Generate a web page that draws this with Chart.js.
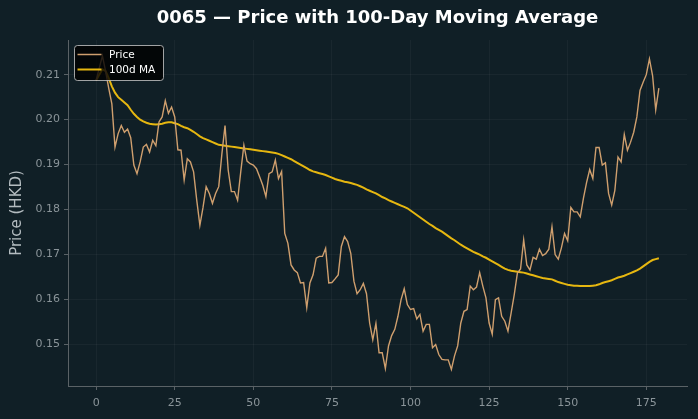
<!DOCTYPE html>
<html>
<head>
<meta charset="utf-8">
<script src="https://cdn.jsdelivr.net/npm/chart.js@4.4.1/dist/chart.umd.min.js"></script>
<style>
  html, body { margin: 0; padding: 0; background: #101f26; }
  #wrap { width: 698px; height: 419px; }
</style>
</head>
<body>
<div id="wrap"><canvas id="myChart" width="698" height="419"></canvas></div>
<script>
const titleText = '0065 — Price with 100-Day Moving Average';
const xTicks = [0, 25, 50, 75, 100, 125, 150, 175];
const yTicks = [0.15, 0.16, 0.17, 0.18, 0.19, 0.20, 0.21];

// day index 0..179
const days = Array.from({ length: 180 }, (_, i) => i);

const price = [
  0.2087, 0.2115, 0.2142, 0.2108, 0.2070, 0.2035, 0.1939, 0.1969, 0.1987, 0.1972,
  0.1979, 0.1960, 0.1899, 0.1880, 0.1906, 0.1939, 0.1945, 0.1928, 0.1954, 0.1942,
  0.1995, 0.2006, 0.2042, 0.2014, 0.2028, 0.2006, 0.1933, 0.1932, 0.1866, 0.1913,
  0.1906, 0.1884, 0.1821, 0.1765, 0.1805, 0.1851, 0.1836, 0.1814, 0.1836, 0.1851,
  0.1924, 0.1987, 0.1888, 0.1840, 0.1840, 0.1821, 0.1884, 0.1943, 0.1908, 0.1902,
  0.1899, 0.1891, 0.1873, 0.1854, 0.1829, 0.1880, 0.1884, 0.1910, 0.1869, 0.1885,
  0.1747, 0.1725, 0.1677, 0.1666, 0.1660, 0.1637, 0.1638, 0.1582, 0.1637, 0.1655,
  0.1692, 0.1696, 0.1696, 0.1714, 0.1637, 0.1638, 0.1646, 0.1655, 0.1718, 0.1740,
  0.1729, 0.1703, 0.1641, 0.1613, 0.1622, 0.1636, 0.1613, 0.1548, 0.1511, 0.1547,
  0.1482, 0.1482, 0.1447, 0.1497, 0.1520, 0.1534, 0.1563, 0.1600, 0.1624, 0.1589,
  0.1578, 0.1580, 0.1557, 0.1567, 0.1530, 0.1545, 0.1545, 0.1493, 0.1500, 0.1478,
  0.1467, 0.1466, 0.1466, 0.1445, 0.1475, 0.1497, 0.1548, 0.1574, 0.1578, 0.1630,
  0.1622, 0.1628, 0.1660, 0.1630, 0.1604, 0.1548, 0.1523, 0.1600, 0.1604, 0.1563,
  0.1552, 0.1530, 0.1570, 0.1611, 0.1659, 0.1668, 0.1733, 0.1677, 0.1666, 0.1694,
  0.1690, 0.1712, 0.1698, 0.1702, 0.1712, 0.1762, 0.1700, 0.1690, 0.1715, 0.1747,
  0.1731, 0.1805, 0.1795, 0.1795, 0.1784, 0.1825, 0.1860, 0.1889, 0.1869, 0.1938,
  0.1938, 0.1899, 0.1904, 0.1836, 0.1810, 0.1843, 0.1917, 0.1906, 0.1967, 0.1932,
  0.1950, 0.1972, 0.2006, 0.2065, 0.2083, 0.2100, 0.2135, 0.2098, 0.2022, 0.2070
];

const ma100 = [
  0.2087, 0.2100, 0.2112, 0.2108, 0.2092, 0.2074, 0.2060, 0.2050, 0.2044, 0.2038,
  0.2032, 0.2022, 0.2013, 0.2006, 0.2000, 0.1996, 0.1993, 0.1991, 0.1990, 0.1989,
  0.1990, 0.1991, 0.1993, 0.1994, 0.1994, 0.1992, 0.1990, 0.1986, 0.1983, 0.1981,
  0.1977, 0.1973, 0.1968, 0.1963, 0.1959, 0.1956, 0.1953, 0.1950, 0.1947, 0.1944,
  0.1943, 0.1942, 0.1941, 0.1940, 0.1939, 0.1938, 0.1937, 0.1936, 0.1935, 0.1934,
  0.1933, 0.1932, 0.1931, 0.1930, 0.1929, 0.1928, 0.1927, 0.1926, 0.1924, 0.1921,
  0.1918, 0.1915, 0.1912, 0.1908, 0.1904, 0.1900, 0.1896, 0.1892, 0.1888, 0.1885,
  0.1883, 0.1881, 0.1879, 0.1877, 0.1874, 0.1871, 0.1868, 0.1866, 0.1864, 0.1862,
  0.1861, 0.1859, 0.1857, 0.1855, 0.1852, 0.1849, 0.1845, 0.1842, 0.1839, 0.1836,
  0.1832, 0.1828, 0.1825, 0.1821, 0.1818, 0.1815, 0.1812, 0.1809, 0.1806, 0.1803,
  0.1798, 0.1793, 0.1788, 0.1783, 0.1778, 0.1773, 0.1768, 0.1764, 0.1759, 0.1755,
  0.1751, 0.1746, 0.1741, 0.1736, 0.1732, 0.1727, 0.1722, 0.1718, 0.1714, 0.1710,
  0.1706, 0.1703, 0.1700, 0.1696, 0.1693, 0.1689, 0.1685, 0.1681, 0.1677, 0.1673,
  0.1669, 0.1666, 0.1664, 0.1663, 0.1662, 0.1661, 0.1660, 0.1658, 0.1656, 0.1654,
  0.1652, 0.1650, 0.1648, 0.1647, 0.1646, 0.1645, 0.1642, 0.1639, 0.1637, 0.1635,
  0.1633, 0.1632, 0.1631, 0.1631, 0.1630, 0.1630, 0.1630, 0.1630, 0.1631, 0.1632,
  0.1634, 0.1637, 0.1639, 0.1641, 0.1643, 0.1646, 0.1649, 0.1651, 0.1653, 0.1656,
  0.1659, 0.1662, 0.1665, 0.1669, 0.1674, 0.1679, 0.1684, 0.1688, 0.1690, 0.1692
];

const bg = '#101f26';
const priceColor = '#cf9f6e';
const maColor = '#e6b710';
const tickColor = '#8a9499';
const spineColor = '#5a6266';

Chart.defaults.font.family = "'DejaVu Sans', sans-serif";

// background + title centred on the plot area + legend box inside the axes
const decor = {
  id: 'decor',
  beforeDraw(chart) {
    const ctx = chart.ctx;
    ctx.save();
    ctx.fillStyle = bg;
    ctx.fillRect(0, 0, chart.width, chart.height);
    ctx.restore();
  },
  afterDraw(chart) {
    const ctx = chart.ctx;
    const a = chart.chartArea;
    ctx.save();
    ctx.fillStyle = '#ffffff';
    ctx.font = "bold 18px 'DejaVu Sans'";
    ctx.textAlign = 'center';
    ctx.textBaseline = 'middle';
    ctx.fillText(titleText, (a.left + a.right) / 2, 18);

    // legend
    const lx = 74.5, ly = 45.5, lw = 89, lh = 35, r = 3;
    ctx.beginPath();
    ctx.moveTo(lx + r, ly);
    ctx.lineTo(lx + lw - r, ly);
    ctx.quadraticCurveTo(lx + lw, ly, lx + lw, ly + r);
    ctx.lineTo(lx + lw, ly + lh - r);
    ctx.quadraticCurveTo(lx + lw, ly + lh, lx + lw - r, ly + lh);
    ctx.lineTo(lx + r, ly + lh);
    ctx.quadraticCurveTo(lx, ly + lh, lx, ly + lh - r);
    ctx.lineTo(lx, ly + r);
    ctx.quadraticCurveTo(lx, ly, lx + r, ly);
    ctx.closePath();
    ctx.fillStyle = 'rgba(0,0,0,0.8)';
    ctx.fill();
    ctx.strokeStyle = 'rgba(200,200,200,0.8)';
    ctx.lineWidth = 1;
    ctx.stroke();

    const items = [
      { label: 'Price', color: priceColor, w: 1.5, y: 54.5 },
      { label: '100d MA', color: maColor, w: 2, y: 69.5 }
    ];
    ctx.font = "10.5px 'DejaVu Sans'";
    ctx.textAlign = 'left';
    items.forEach(it => {
      ctx.strokeStyle = it.color;
      ctx.lineWidth = it.w;
      ctx.beginPath();
      ctx.moveTo(77.5, it.y);
      ctx.lineTo(101.5, it.y);
      ctx.stroke();
      ctx.fillStyle = '#ffffff';
      ctx.fillText(it.label, 109, it.y + 0.5);
    });
    ctx.restore();
  }
};

new Chart(document.getElementById('myChart').getContext('2d'), {
  type: 'line',
  data: {
    labels: days,
    datasets: [
      {
        label: 'Price',
        data: price,
        borderColor: priceColor,
        borderWidth: 1.4,
        pointRadius: 0,
        tension: 0
      },
      {
        label: '100d MA',
        data: ma100,
        borderColor: maColor,
        borderWidth: 2,
        pointRadius: 0,
        tension: 0
      }
    ]
  },
  options: {
    responsive: false,
    animation: false,
    layout: { padding: { top: 40, right: 11, left: 0, bottom: 0 } },
    plugins: {
      legend: { display: false },
      title: { display: false },
      tooltip: { enabled: false }
    },
    scales: {
      x: {
        type: 'linear',
        min: -8.95,
        max: 187.95,
        afterBuildTicks: s => { s.ticks = xTicks.map(v => ({ value: v })); },
        afterFit: s => { s.height = 33; },
        grid: { color: 'rgba(255,255,255,0.04)', tickColor: spineColor, tickLength: 4 },
        border: { color: spineColor, width: 1 },
        ticks: { color: tickColor, font: { size: 11 }, padding: 7, maxRotation: 0 }
      },
      y: {
        min: 0.1408,
        max: 0.2177,
        afterBuildTicks: s => { s.ticks = yTicks.map(v => ({ value: v })); },
        afterFit: s => { s.width = 68; },
        grid: { color: 'rgba(255,255,255,0.04)', tickColor: spineColor, tickLength: 4 },
        border: { color: spineColor, width: 1 },
        ticks: {
          color: tickColor,
          font: { size: 11 },
          padding: 4,
          callback: v => v.toFixed(2)
        },
        title: {
          display: true,
          text: 'Price (HKD)',
          color: '#b4bcc0',
          font: { size: 15 },
          padding: { top: 8, bottom: 0 }
        }
      }
    }
  },
  plugins: [decor]
});
</script>
</body>
</html>
